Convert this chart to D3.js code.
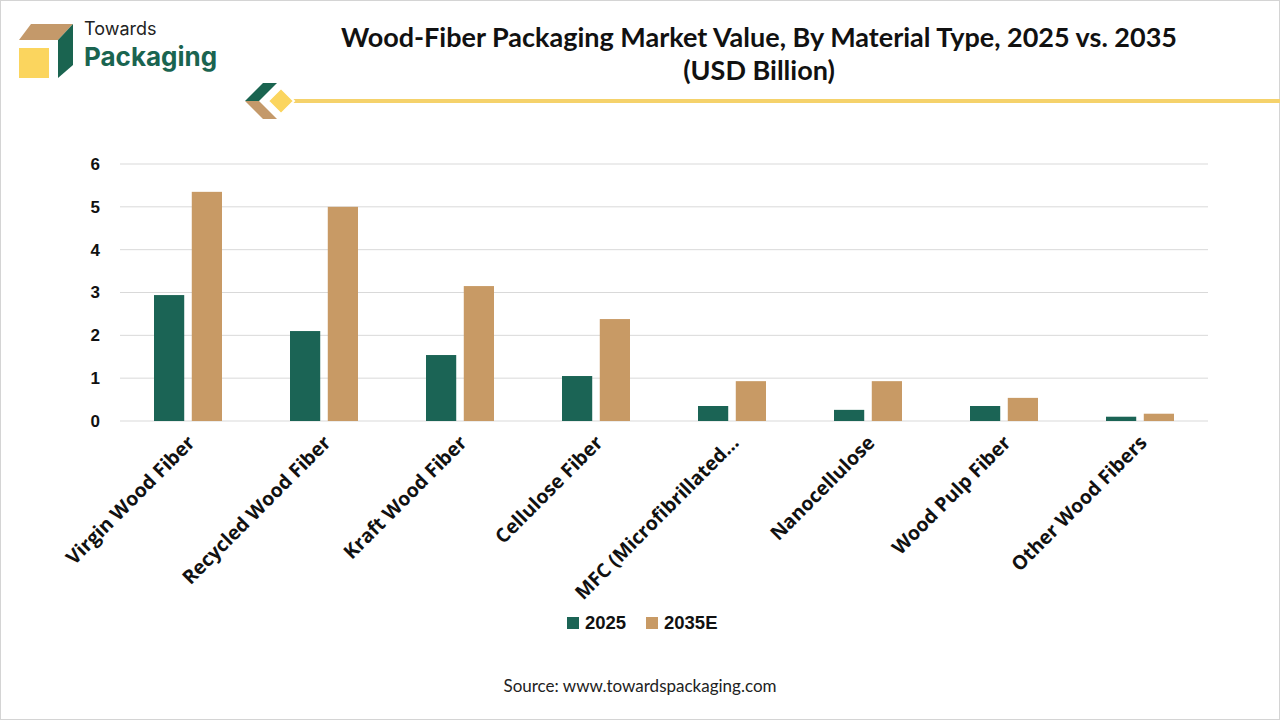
<!DOCTYPE html>
<html>
<head>
<meta charset="utf-8">
<script src="https://cdn.jsdelivr.net/npm/d3@7"></script>
<style>
  html, body { margin: 0; padding: 0; background: #fff; }
  svg { display: block; }
</style>
</head>
<body>
<svg id="chart" width="1280" height="720"></svg>
<script>
// data
const categories = ["Virgin Wood Fiber", "Recycled Wood Fiber", "Kraft Wood Fiber", "Cellulose Fiber",
  "MFC (Microfibrillated…", "Nanocellulose", "Wood Pulp Fiber", "Other Wood Fibers"];
const seriesNames = ["2025", "2035E"];
const values2025 = [2.94, 2.1, 1.54, 1.05, 0.35, 0.26, 0.35, 0.1];
const values2035 = [5.35, 5.0, 3.15, 2.38, 0.93, 0.93, 0.54, 0.17];
const yTicks = [0, 1, 2, 3, 4, 5, 6];
const colors = ["#1b6455", "#c89a65"];

const width = 1280, height = 720;
const plot = { left: 120, right: 1208, top: 164, bottom: 421 };

const svg = d3.select("#chart");

// outer frame
svg.append("rect")
  .attr("x", 0.5).attr("y", 0.5)
  .attr("width", width - 1).attr("height", height - 1)
  .attr("fill", "#fff").attr("stroke", "#d4d4d4");

// logo
const logo = svg.append("g");
logo.append("polygon").attr("points", "19,40 31,24 73,24 58,40").attr("fill", "#c4996a");
logo.append("polygon").attr("points", "58,40 73,24 73,65 58,78").attr("fill", "#1a6450");
logo.append("rect").attr("x", 19).attr("y", 48).attr("width", 30).attr("height", 30).attr("fill", "#fbd55e");
logo.append("text").attr("x", 84).attr("y", 35)
  .style("font-family", "Inter, 'Open Sans', sans-serif").style("font-size", "18px")
  .attr("fill", "#222").text("Towards");
logo.append("text").attr("x", 84).attr("y", 66)
  .style("font-family", "Inter, 'Open Sans', sans-serif").style("font-size", "26px").style("font-weight", 700)
  .attr("fill", "#1a6450").text("Packaging");

// title
const title = svg.append("text")
  .attr("text-anchor", "middle")
  .style("font-family", "Lato, sans-serif").style("font-size", "27px").style("font-weight", 700)
  .attr("fill", "#111");
title.append("tspan").attr("x", 759).attr("y", 47).text("Wood-Fiber Packaging Market Value, By Material Type, 2025 vs. 2035");
title.append("tspan").attr("x", 759).attr("y", 80).text("(USD Billion)");

// decoration under the title
svg.append("line")
  .attr("x1", 285).attr("x2", 1280).attr("y1", 101).attr("y2", 101)
  .attr("stroke", "#f5d26b").attr("stroke-width", 4);
svg.append("polygon").attr("points", "245,101 263,83 277,83 259,101").attr("fill", "#1a6450");
svg.append("polygon").attr("points", "245,101 259,101 277,119 263,119").attr("fill", "#c4996a");
svg.append("polygon").attr("points", "281,88 294,101 281,114 268,101")
  .attr("fill", "#fbd55e").attr("stroke", "#fff").attr("stroke-width", 2);

// scales
const x0 = d3.scaleBand().domain(categories).range([plot.left, plot.right])
  .paddingInner(0.5).paddingOuter(0.25);
const x1 = d3.scaleBand().domain(seriesNames).range([0, x0.bandwidth()]).paddingInner(0.2);
const y = d3.scaleLinear().domain([0, 6]).range([plot.bottom, plot.top]);

// gridlines
svg.append("g").selectAll("line").data(yTicks).enter().append("line")
  .attr("x1", plot.left).attr("x2", plot.right)
  .attr("y1", d => y(d)).attr("y2", d => y(d))
  .attr("stroke", "#d9d9d9").attr("stroke-width", 1);

// y axis labels
const yAxis = svg.append("g").attr("transform", `translate(${plot.left - 12},0)`)
  .call(d3.axisLeft(y).tickValues(yTicks).tickSize(0).tickPadding(8).tickFormat(d3.format("d")));
yAxis.select(".domain").remove();
yAxis.selectAll("text")
  .style("font-family", "'Liberation Sans', Arial, sans-serif").style("font-size", "17px")
  .style("font-weight", 700).attr("fill", "#111");

// bars
const rows = categories.map((c, i) => ({ cat: c, vals: [values2025[i], values2035[i]] }));
const groups = svg.append("g").selectAll("g").data(rows).enter().append("g")
  .attr("transform", d => `translate(${x0(d.cat)},0)`);
groups.selectAll("rect")
  .data(d => d.vals.map((v, j) => ({ key: seriesNames[j], v: v, j: j })))
  .enter().append("rect")
  .attr("x", d => x1(d.key))
  .attr("width", x1.bandwidth())
  .attr("y", d => y(d.v))
  .attr("height", d => y(0) - y(d.v))
  .attr("fill", d => colors[d.j]);

// x category labels, rotated
svg.append("g").selectAll("text").data(categories).enter().append("text")
  .attr("transform", d => `translate(${x0(d) + x0.bandwidth() / 2 + 8},${plot.bottom + 23}) rotate(-45)`)
  .attr("text-anchor", "end")
  .style("font-family", "'Open Sans', sans-serif").style("font-size", "19.5px").style("font-weight", 700)
  .attr("fill", "#111")
  .text(d => d);

// legend
const legend = svg.append("g");
const legendX = [567, 646];
seriesNames.forEach((s, i) => {
  legend.append("rect").attr("x", legendX[i]).attr("y", 617).attr("width", 12).attr("height", 12).attr("fill", colors[i]);
  legend.append("text").attr("x", legendX[i] + 18).attr("y", 629)
    .style("font-family", "'Liberation Sans', Arial, sans-serif").style("font-size", "18.5px").style("font-weight", 700)
    .attr("fill", "#111").text(s);
});

// source
svg.append("text").attr("x", 640).attr("y", 692).attr("text-anchor", "middle")
  .style("font-family", "Lato, sans-serif").style("font-size", "17px")
  .attr("fill", "#222").text("Source: www.towardspackaging.com");
</script>
</body>
</html>
